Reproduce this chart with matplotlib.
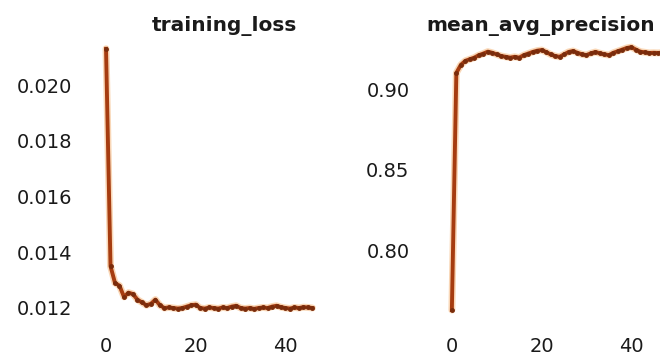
import matplotlib
matplotlib.use("Agg")
import matplotlib.pyplot as plt
import numpy as np

loss = [0.0213, 0.0135, 0.0129, 0.0128, 0.0124, 0.01255, 0.0125, 0.0123, 0.0122, 0.0121,
        0.01215, 0.0123, 0.0121, 0.0120, 0.01202, 0.0120, 0.01198, 0.0120, 0.01205, 0.0121,
        0.01212, 0.0120, 0.01198, 0.01202, 0.0120, 0.01198, 0.01202, 0.0120, 0.01205, 0.01208,
        0.0120, 0.01198, 0.0120, 0.01197, 0.0120, 0.01202, 0.0120, 0.01205, 0.01208, 0.01203,
        0.0120, 0.01198, 0.01202, 0.0120, 0.01203, 0.01202, 0.0120]
mean_ap = [0.7627, 0.9100, 0.9150, 0.9175, 0.9185, 0.9195, 0.9210, 0.9220, 0.9232, 0.9225,
           0.9215, 0.9205, 0.9200, 0.9195, 0.9200, 0.9195, 0.9210, 0.9220, 0.9230, 0.9238,
           0.9242, 0.9230, 0.9215, 0.9205, 0.9200, 0.9215, 0.9230, 0.9236, 0.9225, 0.9215,
           0.9211, 0.9222, 0.9230, 0.9222, 0.9215, 0.9211, 0.9225, 0.9235, 0.9245, 0.9255,
           0.9260, 0.9245, 0.9232, 0.9228, 0.9224, 0.9225, 0.9224, 0.9226, 0.9225]
titles = ["training_loss", "mean_avg_precision"]
loss_ticks = [0.012, 0.014, 0.016, 0.018, 0.020]
map_ticks = [0.80, 0.85, 0.90]
x_ticks = [0, 20, 40]

fig = plt.figure(figsize=(6.6, 3.62), dpi=100)
ax1 = fig.add_axes([0.145, 0.103, 0.344, 0.793])
ax2 = fig.add_axes([0.669, 0.103, 0.344, 0.793])

series = [loss, mean_ap]
ylims = [(0.0114, 0.0217), (0.7536, 0.9319)]
yticks = [loss_ticks, map_ticks]
fmts = ["{:.3f}", "{:.2f}"]
title_x = [0.568, 0.437]
ypads = [17, 23]

for ax, y, title, lim, yt, fmt, tx, yp in zip([ax1, ax2], series, titles, ylims, yticks,
                                              fmts, title_x, ypads):
    x = np.arange(len(y))
    ax.plot(x, y, color="#f2a860", lw=5, alpha=0.45, solid_capstyle="round")
    ax.plot(x, y, color="#a63c10", lw=2.8, marker="o", ms=2.5,
            mfc="#7a2c0c", mec="#7a2c0c")
    ax.set_xlim(-2.3, 48.3)
    ax.set_ylim(*lim)
    ax.set_xticks(x_ticks)
    ax.set_yticks(yt)
    ax.set_yticklabels([fmt.format(v) for v in yt])
    for s in ax.spines.values():
        s.set_visible(False)
    ax.tick_params(length=0, labelsize=14, labelcolor="#1a1a1a")
    ax.tick_params(axis="y", pad=yp)
    ax.tick_params(axis="x", pad=9)
    ax.set_title(title, x=tx, fontsize=14.5, fontweight="semibold", color="#1a1a1a", pad=5)

fig.savefig("out.png", dpi=100)
